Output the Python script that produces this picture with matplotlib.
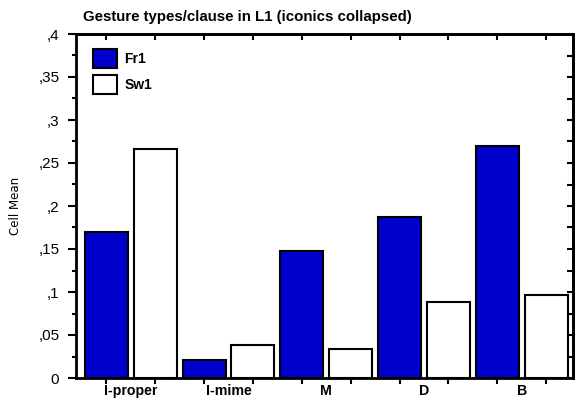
import matplotlib
matplotlib.use("Agg")
import matplotlib.pyplot as plt
import numpy as np
from matplotlib.ticker import FixedLocator

categories = ["I-proper", "I-mime", "M", "D", "B"]
fr1 = [0.170, 0.021, 0.148, 0.187, 0.270]
sw1 = [0.266, 0.038, 0.034, 0.088, 0.096]
series_names = ["Fr1", "Sw1"]
ytick_vals = [0, 0.05, 0.1, 0.15, 0.2, 0.25, 0.3, 0.35, 0.4]
ytick_labels = ["0", ",05", ",1", ",15", ",2", ",25", ",3", ",35", ",4"]

fig = plt.figure(figsize=(5.75, 4.01), dpi=100)
ax = fig.add_axes([76/575, 1-378/401, (573-76)/575, (378-34)/401])

n = len(categories)
g = np.arange(n) * 2
blue = "#0000CC"
w = 0.88
ax.bar(g, fr1, width=w, color=blue, edgecolor="black", linewidth=1.5, label=series_names[0])
ax.bar(g + 1, sw1, width=w, color="white", edgecolor="black", linewidth=1.5, label=series_names[1])

ax.set_xlim(-0.62, 2*n - 1 + 0.55)
ax.set_ylim(0, 0.4)

for s in ax.spines.values():
    s.set_linewidth(2)

ax.set_yticks(ytick_vals)
ax.set_yticklabels(ytick_labels, fontsize=11, family="Liberation Sans")
ax.yaxis.set_minor_locator(FixedLocator(np.arange(0.025, 0.4, 0.05)))
ax.tick_params(axis="y", which="major", direction="out", length=6, width=1.5, pad=6)
ax.tick_params(axis="y", which="minor", direction="out", length=3, width=1.5)
ax.tick_params(axis="y", which="both", right=False)

bar_centers = np.sort(np.concatenate([g, g + 1]))
ax.set_xticks(g + 0.5)
ax.set_xticklabels(categories, fontsize=10.2, fontweight="bold", family="Liberation Sans")
ax.tick_params(axis="x", which="major", length=0, pad=4)
ax.xaxis.set_minor_locator(FixedLocator(bar_centers))
ax.tick_params(axis="x", which="minor", direction="out", length=4, width=1.5, top=False)

# right/top inward ticks via secondary axes
sec_y = ax.secondary_yaxis("right")
sec_y.set_yticks(np.arange(0, 0.401, 0.025))
sec_y.set_yticklabels([])
sec_y.tick_params(direction="in", length=4, width=1.5)
sec_y.spines["right"].set_linewidth(2)
sec_x = ax.secondary_xaxis("top")
sec_x.set_xticks(bar_centers)
sec_x.set_xticklabels([])
sec_x.tick_params(direction="in", length=4, width=1.5)
sec_x.spines["top"].set_linewidth(2)

ax.set_ylabel("Cell Mean", fontsize=8.5, labelpad=12)

leg = ax.legend(loc="upper left", frameon=False,
                prop={"weight": "bold", "size": 10, "family": "Liberation Sans"},
                handlelength=1.75, handleheight=1.75, borderaxespad=0.3, labelspacing=0.5,
                handletextpad=0.5, bbox_to_anchor=(0.015, 0.985))

fig.text(83/575, 1-17/401, "Gesture types/clause in L1 (iconics collapsed)", fontsize=10.8,
         fontweight="bold", family="Liberation Sans", va="center", ha="left")

fig.savefig("out.png", dpi=100)
